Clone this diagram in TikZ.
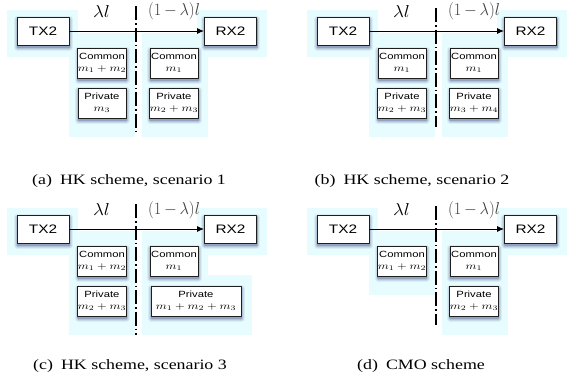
\documentclass[tikz,border=0pt]{standalone}
\usepackage{fontspec}
\setmainfont{Liberation Serif}
\setsansfont{Liberation Sans}
\usepackage{graphicx}
\usetikzlibrary{arrows.meta,shadows}
\definecolor{glowc}{RGB}{230,252,254}
\definecolor{shc}{RGB}{45,55,120}
\definecolor{edgec}{RGB}{30,30,30}
% most lettering is set a little wide
\newcommand\stretchx[1]{\scalebox{1.25}[1]{#1}}
\newcommand\msgtxt[2]{\stretchx{\begin{tabular}{@{}c@{}}\fontsize{9}{10}\selectfont\sffamily #1\\\fontsize{10}{12}\selectfont$#2$\end{tabular}}}
\tikzset{
  glow/.style={fill=glowc,draw=none},
  box/.style={draw=edgec,fill=white,line width=0.9pt,inner sep=0pt,line join=round,
    font=\fontsize{10}{12}\selectfont,
    general shadow={draw=shc,line width=7pt,opacity=0.07,shadow xshift=0.4pt,shadow yshift=-2pt},
    general shadow={draw=shc,line width=5pt,opacity=0.10,shadow xshift=0.4pt,shadow yshift=-2pt},
    general shadow={draw=shc,line width=3pt,opacity=0.15,shadow xshift=0.4pt,shadow yshift=-2pt},
    general shadow={draw=shc,line width=1.4pt,opacity=0.22,shadow xshift=0.4pt,shadow yshift=-2pt}},
  trx/.style={box,minimum width=52pt,minimum height=28pt},
  msg/.style={box,minimum width=48pt,minimum height=30pt},
  wmsg/.style={box,minimum width=90pt,minimum height=30pt},
  flow/.style={-{Latex[length=7pt,width=6pt]},line width=1pt,draw=black},
  cut/.style={line width=1.2pt,dash pattern=on 14pt off 3pt on 1.5pt off 3pt},
  lab/.style={anchor=base,inner sep=0pt,font=\fontsize{17}{18}\selectfont},
  lenlab/.style={anchor=base,inner sep=0pt,text=black!75,font=\fontsize{16}{17}\selectfont},
  captxt/.style={anchor=base,inner sep=0pt,font=\fontsize{14.3}{17}\selectfont}
}
\newcommand\trtxt[1]{\stretchx{\sffamily\fontsize{12.3}{13}\selectfont #1}}
\newcommand\lamtxt{\scalebox{1.1}[1]{$\lambda l$}}
\newcommand\restxt{\scalebox{0.95}[1]{$(1\mkern-1mu-\mkern-1mu\lambda)l$}}
\begin{document}
\begin{tikzpicture}[x=1pt,y=-1pt]
\useasboundingbox (0,0) rectangle (571,388);

% ---------- (a) HK scheme, scenario 1 ----------
\fill[glow] (7,10) rectangle (78,57);
\fill[glow] (69,33) rectangle (135,137);
\fill[glow] (142,33) rectangle (208,137);
\fill[glow] (197,10) rectangle (267,57);
\node[trx] (a-tx) at (43,31) {\trtxt{TX2}};
\node[trx] (a-rx) at (230.5,31) {\trtxt{RX2}};
\draw[flow] (a-tx) -- (a-rx);
\node[msg] (a-c1) at (102,63) {\msgtxt{Common}{m_1+m_2}};
\node[msg] (a-p1) at (102,103) {\msgtxt{Private}{m_3}};
\node[msg] (a-c2) at (174,63) {\msgtxt{Common}{m_1}};
\node[msg] (a-p2) at (174,103) {\msgtxt{Private}{m_2+m_3}};
\coordinate (a-t) at (136,6); \coordinate (a-b) at (136,132);
\draw[cut] (a-t) -- (a-b);
\node[lab] (a-l1) at (101.5,17) {\lamtxt};
\node[lenlab] (a-l2) at (174,16) {\restxt};
\node[captxt] (a-cap) at (129,184) {\stretchx{(a)\hskip0.45em HK scheme, scenario 1}};

% ---------- (b) HK scheme, scenario 2 ----------
\begin{scope}[shift={(300,0)}]
\fill[glow] (7,10) rectangle (78,57);
\fill[glow] (69,33) rectangle (135,137);
\fill[glow] (142,33) rectangle (208,137);
\fill[glow] (197,10) rectangle (267,57);
\node[trx] (b-tx) at (43,31) {\trtxt{TX2}};
\node[trx] (b-rx) at (230.5,31) {\trtxt{RX2}};
\draw[flow] (b-tx) -- (b-rx);
\node[msg] (b-c1) at (102,63) {\msgtxt{Common}{m_1}};
\node[msg] (b-p1) at (102,103) {\msgtxt{Private}{m_2+m_3}};
\node[msg] (b-c2) at (174,63) {\msgtxt{Common}{m_1}};
\node[msg] (b-p2) at (174,103) {\msgtxt{Private}{m_3+m_4}};
\coordinate (b-t) at (136,8); \coordinate (b-b) at (136,127);
\draw[cut] (b-t) -- (b-b);
\node[lab] (b-l1) at (101.5,17) {\lamtxt};
\node[lenlab] (b-l2) at (174,16) {\restxt};
\node[captxt] (b-cap) at (112,184) {\stretchx{(b)\hskip0.45em HK scheme, scenario 2}};
\end{scope}

% ---------- (c) HK scheme, scenario 3 ----------
\begin{scope}[shift={(0,198)}]
\fill[glow] (7,10) rectangle (78,57);
\fill[glow] (69,33) rectangle (135,137);
\fill[glow] (142,33) rectangle (208,77);
\fill[glow] (142,77) rectangle (252,137);
\fill[glow] (197,10) rectangle (267,57);
\node[trx] (c-tx) at (43,31) {\trtxt{TX2}};
\node[trx] (c-rx) at (230.5,31) {\trtxt{RX2}};
\draw[flow] (c-tx) -- (c-rx);
\node[msg] (c-c1) at (102,63) {\msgtxt{Common}{m_1+m_2}};
\node[msg] (c-p1) at (102,103) {\msgtxt{Private}{m_2+m_3}};
\node[msg] (c-c2) at (174,63) {\msgtxt{Common}{m_1}};
\node[wmsg] (c-p2) at (196,103) {\msgtxt{Private}{m_1+m_2+m_3}};
\coordinate (c-t) at (136,6); \coordinate (c-b) at (136,137);
\draw[cut] (c-t) -- (c-b);
\node[lab] (c-l1) at (101.5,17) {\lamtxt};
\node[lenlab] (c-l2) at (174,16) {\restxt};
\node[captxt] (c-cap) at (130,171) {\stretchx{(c)\hskip0.45em HK scheme, scenario 3}};
\end{scope}

% ---------- (d) CMO scheme ----------
\begin{scope}[shift={(300,198)}]
\fill[glow] (7,10) rectangle (78,57);
\fill[glow] (69,33) rectangle (135,97);
\fill[glow] (142,33) rectangle (208,137);
\fill[glow] (197,10) rectangle (267,57);
\node[trx] (d-tx) at (43,31) {\trtxt{TX2}};
\node[trx] (d-rx) at (230.5,31) {\trtxt{RX2}};
\draw[flow] (d-tx) -- (d-rx);
\node[msg] (d-c1) at (102,63) {\msgtxt{Common}{m_1+m_2}};
\node[msg] (d-c2) at (174,63) {\msgtxt{Common}{m_1}};
\node[msg] (d-p2) at (174,103) {\msgtxt{Private}{m_2+m_3}};
\coordinate (d-t) at (136,8); \coordinate (d-b) at (136,127);
\draw[cut] (d-t) -- (d-b);
\node[lab] (d-l1) at (101.5,17) {\lamtxt};
\node[lenlab] (d-l2) at (174,16) {\restxt};
\node[captxt] (d-cap) at (121,171) {\stretchx{(d)\hskip0.45em CMO scheme}};
\end{scope}
\end{tikzpicture}
\end{document}
